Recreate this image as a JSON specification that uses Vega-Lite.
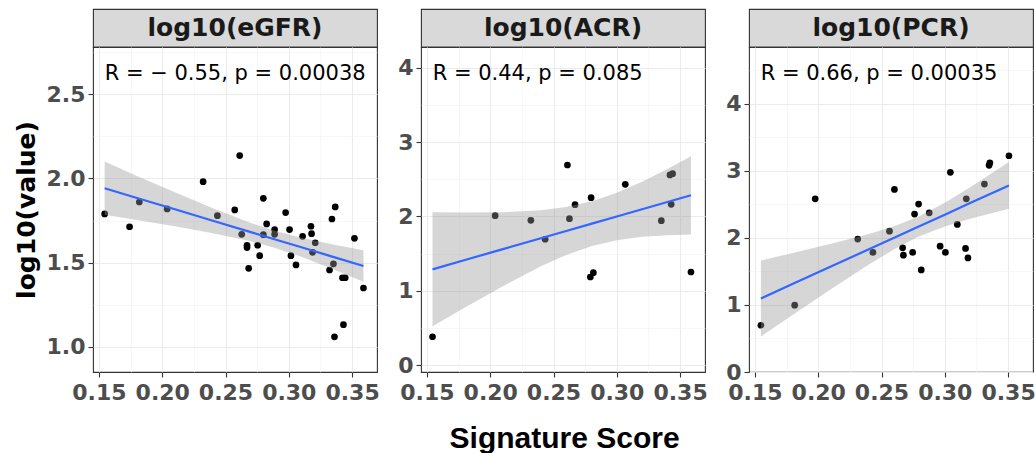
{
  "$schema": "https://vega.github.io/schema/vega-lite/v6.json",
  "padding": {"left": 13, "top": 8, "right": 0, "bottom": 2},
  "bounds": "flush",
  "columns": 3,
  "spacing": {"row": 0, "column": 44},
  "background": "white",
  "config": {
    "view": {"stroke": "#333333", "strokeWidth": 1.1},
    "font": "DejaVu Sans",
    "axis": {
      "labelFont": "DejaVu Sans", "labelFontWeight": "bold", "labelFontSize": 22, "labelColor": "#4d4d4d",
      "tickColor": "#333333", "tickSize": 5, "tickWidth": 1.1, "labelPadding": 3, "domain": false,
      "gridColor": "#ebebeb", "gridWidth": 1.1, "labelOverlap": false, "labelFlush": false
    },
    "axisX": {"labelPadding": 5}
  },
  "title": {"text": "Signature Score", "orient": "bottom", "anchor": "middle", "font": "Liberation Sans", "fontSize": 30, "fontWeight": "bold", "color": "#000000", "offset": 20, "dx": 40},
  "datasets": {
    "egfr": [
      {"x":0.1545,"y":1.789},{"x":0.1742,"y":1.713},{"x":0.1819,"y":1.860},{"x":0.2039,"y":1.819},{"x":0.2323,"y":1.981},{"x":0.2436,"y":1.779},{"x":0.2612,"y":2.136},{"x":0.2573,"y":1.813},{"x":0.2628,"y":1.668},{"x":0.2670,"y":1.603},{"x":0.2670,"y":1.589},{"x":0.2683,"y":1.466},{"x":0.2754,"y":1.603},{"x":0.2770,"y":1.541},{"x":0.2799,"y":1.882},{"x":0.2799,"y":1.666},{"x":0.2825,"y":1.730},{"x":0.2888,"y":1.696},{"x":0.2888,"y":1.668},{"x":0.2975,"y":1.797},{"x":0.3006,"y":1.696},{"x":0.3017,"y":1.541},{"x":0.3057,"y":1.486},{"x":0.3109,"y":1.656},{"x":0.3175,"y":1.716},{"x":0.3180,"y":1.672},{"x":0.3209,"y":1.618},{"x":0.3188,"y":1.561},{"x":0.3322,"y":1.456},{"x":0.3353,"y":1.493},{"x":0.3341,"y":1.759},{"x":0.3367,"y":1.831},{"x":0.3424,"y":1.410},{"x":0.3446,"y":1.410},{"x":0.3361,"y":1.059},{"x":0.3432,"y":1.131},{"x":0.3519,"y":1.644},{"x":0.3590,"y":1.349}
    ],
    "egfr_fit": [
      {"x":0.1545,"fit":1.942,"lo":1.784,"hi":2.100},{"x":0.18,"fit":1.884,"lo":1.753,"hi":2.015},{"x":0.21,"fit":1.817,"lo":1.716,"hi":1.918},{"x":0.24,"fit":1.749,"lo":1.675,"hi":1.823},{"x":0.27,"fit":1.681,"lo":1.627,"hi":1.735},{"x":0.288,"fit":1.640,"lo":1.590,"hi":1.690},{"x":0.31,"fit":1.591,"lo":1.535,"hi":1.647},{"x":0.335,"fit":1.534,"lo":1.461,"hi":1.607},{"x":0.359,"fit":1.480,"lo":1.386,"hi":1.574}
    ],
    "acr": [
      {"x":0.1544,"y":0.384},{"x":0.2039,"y":2.011},{"x":0.2321,"y":1.949},{"x":0.2434,"y":1.694},{"x":0.2610,"y":2.692},{"x":0.2626,"y":1.970},{"x":0.2670,"y":2.159},{"x":0.2797,"y":2.253},{"x":0.2791,"y":1.187},{"x":0.2815,"y":1.245},{"x":0.3067,"y":2.433},{"x":0.3352,"y":1.944},{"x":0.3420,"y":2.558},{"x":0.3441,"y":2.575},{"x":0.3430,"y":2.164},{"x":0.3586,"y":1.254}
    ],
    "acr_fit": [
      {"x":0.1544,"fit":1.290,"lo":0.524,"hi":2.056},{"x":0.18,"fit":1.415,"lo":0.777,"hi":2.053},{"x":0.21,"fit":1.561,"lo":1.064,"hi":2.058},{"x":0.24,"fit":1.707,"lo":1.330,"hi":2.084},{"x":0.26,"fit":1.805,"lo":1.483,"hi":2.127},{"x":0.281,"fit":1.907,"lo":1.607,"hi":2.207},{"x":0.30,"fit":2.000,"lo":1.682,"hi":2.318},{"x":0.32,"fit":2.097,"lo":1.727,"hi":2.468},{"x":0.34,"fit":2.194,"lo":1.749,"hi":2.639},{"x":0.3586,"fit":2.285,"lo":1.759,"hi":2.811}
    ],
    "pcr": [
      {"x":0.1547,"y":0.697},{"x":0.1814,"y":0.996},{"x":0.1976,"y":2.582},{"x":0.2312,"y":1.981},{"x":0.2432,"y":1.782},{"x":0.2563,"y":2.100},{"x":0.2602,"y":2.722},{"x":0.2667,"y":1.851},{"x":0.2673,"y":1.742},{"x":0.2746,"y":1.782},{"x":0.2761,"y":2.354},{"x":0.2793,"y":2.503},{"x":0.2814,"y":1.522},{"x":0.2877,"y":2.373},{"x":0.2963,"y":1.876},{"x":0.3005,"y":1.782},{"x":0.3044,"y":2.976},{"x":0.3099,"y":2.200},{"x":0.3164,"y":1.842},{"x":0.3183,"y":1.701},{"x":0.3170,"y":2.582},{"x":0.3313,"y":2.801},{"x":0.3350,"y":3.081},{"x":0.3356,"y":3.119},{"x":0.3507,"y":3.224}
    ],
    "pcr_fit": [
      {"x":0.1547,"fit":1.096,"lo":0.529,"hi":1.663},{"x":0.18,"fit":1.314,"lo":0.853,"hi":1.775},{"x":0.21,"fit":1.572,"lo":1.233,"hi":1.911},{"x":0.24,"fit":1.830,"lo":1.602,"hi":2.058},{"x":0.26,"fit":2.002,"lo":1.830,"hi":2.174},{"x":0.279,"fit":2.165,"lo":2.015,"hi":2.315},{"x":0.30,"fit":2.346,"lo":2.170,"hi":2.522},{"x":0.32,"fit":2.518,"lo":2.283,"hi":2.753},{"x":0.3507,"fit":2.782,"lo":2.432,"hi":3.132}
    ]
  },
  "concat": [
    {"width": 284, "height": 38, "view": {"fill": "#d9d9d9", "stroke": "#333333", "strokeWidth": 1.1},
     "data": {"values": [{"t": "log10(eGFR)"}]},
     "mark": {"type": "text", "font": "DejaVu Sans", "fontWeight": "bold", "fontSize": 25, "color": "#1a1a1a", "baseline": "middle", "align": "center"},
     "encoding": {"text": {"field": "t"}}},
    {"width": 284, "height": 38, "view": {"fill": "#d9d9d9", "stroke": "#333333", "strokeWidth": 1.1},
     "data": {"values": [{"t": "log10(ACR)"}]},
     "mark": {"type": "text", "font": "DejaVu Sans", "fontWeight": "bold", "fontSize": 25, "color": "#1a1a1a", "baseline": "middle", "align": "center"},
     "encoding": {"text": {"field": "t"}}},
    {"width": 284, "height": 38, "view": {"fill": "#d9d9d9", "stroke": "#333333", "strokeWidth": 1.1},
     "data": {"values": [{"t": "log10(PCR)"}]},
     "mark": {"type": "text", "font": "DejaVu Sans", "fontWeight": "bold", "fontSize": 25, "color": "#1a1a1a", "baseline": "middle", "align": "center"},
     "encoding": {"text": {"field": "t"}}},
    {"width": 284, "height": 325,
     "resolve": {"axis": {"x": "independent", "y": "independent"}},
     "layer": [
      {"data": {"name": "egfr"}, "mark": {"type": "circle", "color": "#000000", "size": 45, "opacity": 1},
       "encoding": {
        "x": {"field": "x", "type": "quantitative", "scale": {"domain": [0.1453, 0.3697], "nice": false, "zero": false},
              "axis": {"values": [0.15, 0.2, 0.25, 0.3, 0.35], "format": ".2f", "title": null, "grid": true}},
        "y": {"field": "y", "type": "quantitative", "scale": {"domain": [0.85, 2.781], "nice": false, "zero": false},
              "axis": {"values": [1, 1.5, 2, 2.5], "format": ".1f", "title": "log10(value)", "titleFont": "DejaVu Sans", "titleFontSize": 25, "titleFontWeight": "bold", "titleColor": "#000000", "titlePadding": 7, "grid": true}}
       }},
      {"data": {"name": "egfr_fit"}, "mark": {"type": "area", "color": "#999999", "opacity": 0.4},
       "encoding": {
        "x": {"field": "x", "type": "quantitative", "axis": {"values": [0.175, 0.225, 0.275, 0.325], "grid": true, "gridColor": "#f1f1f1", "gridWidth": 0.6, "labels": false, "ticks": false, "title": null}},
        "y": {"field": "lo", "type": "quantitative", "axis": {"values": [1.25, 1.75, 2.25, 2.75], "grid": true, "gridColor": "#f1f1f1", "gridWidth": 0.6, "labels": false, "ticks": false, "title": null}},
        "y2": {"field": "hi"}
       }},
      {"data": {"name": "egfr_fit"}, "mark": {"type": "line", "color": "#3366FF", "strokeWidth": 2.2},
       "encoding": {
        "x": {"field": "x", "type": "quantitative", "axis": null},
        "y": {"field": "fit", "type": "quantitative", "axis": null}
       }},
      {"data": {"values": [{"x": 0.1545, "y": 2.622, "t": "R = \u2212 0.55, p = 0.00038"}]},
       "mark": {"type": "text", "font": "DejaVu Sans", "fontSize": 21, "color": "#000000", "align": "left", "baseline": "middle"},
       "encoding": {
        "x": {"field": "x", "type": "quantitative", "axis": null},
        "y": {"field": "y", "type": "quantitative", "axis": null},
        "text": {"field": "t"}
       }}
     ]},
    {"width": 284, "height": 325,
     "resolve": {"axis": {"x": "independent", "y": "independent"}},
     "layer": [
      {"data": {"name": "acr"}, "mark": {"type": "circle", "color": "#000000", "size": 45, "opacity": 1},
       "encoding": {
        "x": {"field": "x", "type": "quantitative", "scale": {"domain": [0.1453, 0.3697], "nice": false, "zero": false},
              "axis": {"values": [0.15, 0.2, 0.25, 0.3, 0.35], "format": ".2f", "title": null, "grid": true}},
        "y": {"field": "y", "type": "quantitative", "scale": {"domain": [-0.09, 4.278], "nice": false, "zero": false},
              "axis": {"values": [0, 1, 2, 3, 4], "format": "d", "title": null, "grid": true}}
       }},
      {"data": {"name": "acr_fit"}, "mark": {"type": "area", "color": "#999999", "opacity": 0.4},
       "encoding": {
        "x": {"field": "x", "type": "quantitative", "axis": {"values": [0.175, 0.225, 0.275, 0.325], "grid": true, "gridColor": "#f1f1f1", "gridWidth": 0.6, "labels": false, "ticks": false, "title": null}},
        "y": {"field": "lo", "type": "quantitative", "axis": {"values": [0.5, 1.5, 2.5, 3.5], "grid": true, "gridColor": "#f1f1f1", "gridWidth": 0.6, "labels": false, "ticks": false, "title": null}},
        "y2": {"field": "hi"}
       }},
      {"data": {"name": "acr_fit"}, "mark": {"type": "line", "color": "#3366FF", "strokeWidth": 2.2},
       "encoding": {
        "x": {"field": "x", "type": "quantitative", "axis": null},
        "y": {"field": "fit", "type": "quantitative", "axis": null}
       }},
      {"data": {"values": [{"x": 0.1545, "y": 3.92, "t": "R = 0.44, p = 0.085"}]},
       "mark": {"type": "text", "font": "DejaVu Sans", "fontSize": 21, "color": "#000000", "align": "left", "baseline": "middle"},
       "encoding": {
        "x": {"field": "x", "type": "quantitative", "axis": null},
        "y": {"field": "y", "type": "quantitative", "axis": null},
        "text": {"field": "t"}
       }}
     ]},
    {"width": 284, "height": 325,
     "resolve": {"axis": {"x": "independent", "y": "independent"}},
     "layer": [
      {"data": {"name": "pcr"}, "mark": {"type": "circle", "color": "#000000", "size": 45, "opacity": 1},
       "encoding": {
        "x": {"field": "x", "type": "quantitative", "scale": {"domain": [0.1453, 0.3697], "nice": false, "zero": false},
              "axis": {"values": [0.15, 0.2, 0.25, 0.3, 0.35], "format": ".2f", "title": null, "grid": true}},
        "y": {"field": "y", "type": "quantitative", "scale": {"domain": [0, 4.845], "nice": false, "zero": false},
              "axis": {"values": [0, 1, 2, 3, 4], "format": "d", "title": null, "grid": true}}
       }},
      {"data": {"name": "pcr_fit"}, "mark": {"type": "area", "color": "#999999", "opacity": 0.4},
       "encoding": {
        "x": {"field": "x", "type": "quantitative", "axis": {"values": [0.175, 0.225, 0.275, 0.325], "grid": true, "gridColor": "#f1f1f1", "gridWidth": 0.6, "labels": false, "ticks": false, "title": null}},
        "y": {"field": "lo", "type": "quantitative", "axis": {"values": [0.5, 1.5, 2.5, 3.5, 4.5], "grid": true, "gridColor": "#f1f1f1", "gridWidth": 0.6, "labels": false, "ticks": false, "title": null}},
        "y2": {"field": "hi"}
       }},
      {"data": {"name": "pcr_fit"}, "mark": {"type": "line", "color": "#3366FF", "strokeWidth": 2.2},
       "encoding": {
        "x": {"field": "x", "type": "quantitative", "axis": null},
        "y": {"field": "fit", "type": "quantitative", "axis": null}
       }},
      {"data": {"values": [{"x": 0.1545, "y": 4.448, "t": "R = 0.66, p = 0.00035"}]},
       "mark": {"type": "text", "font": "DejaVu Sans", "fontSize": 21, "color": "#000000", "align": "left", "baseline": "middle"},
       "encoding": {
        "x": {"field": "x", "type": "quantitative", "axis": null},
        "y": {"field": "y", "type": "quantitative", "axis": null},
        "text": {"field": "t"}
       }}
     ]}
  ]
}
